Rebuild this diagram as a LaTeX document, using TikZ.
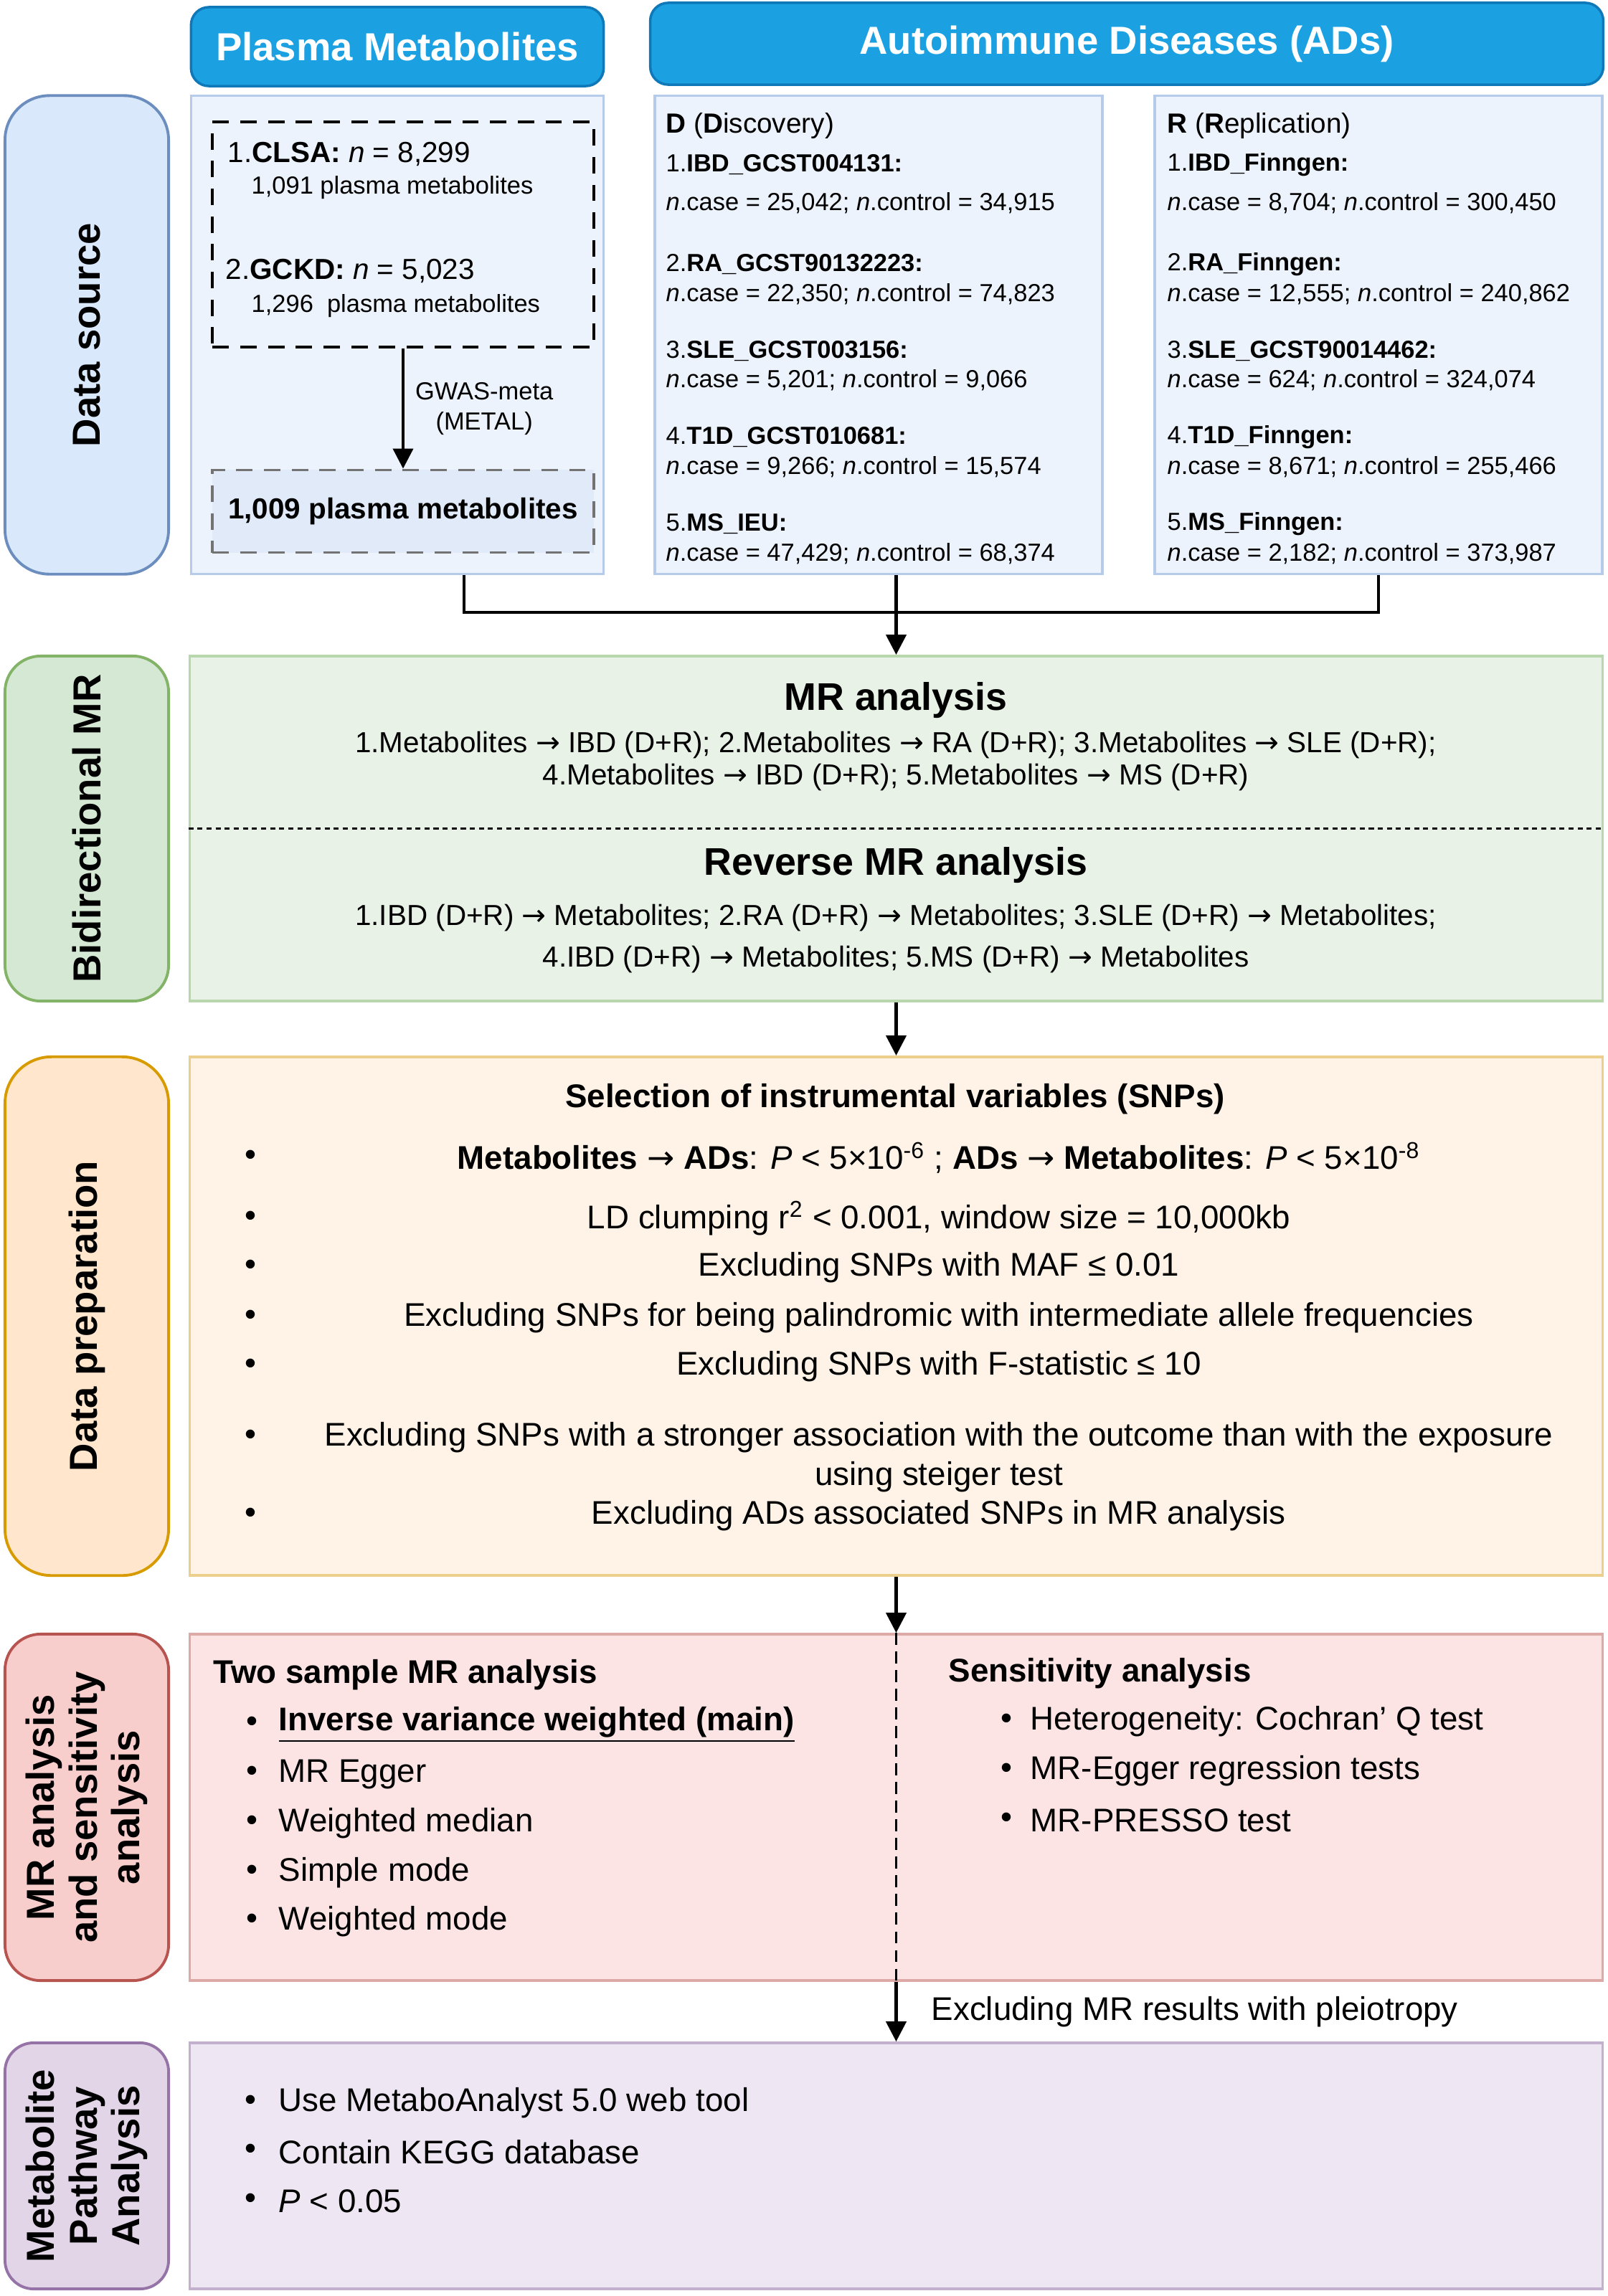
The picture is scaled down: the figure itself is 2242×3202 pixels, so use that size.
\documentclass[tikz,border=0pt]{standalone}
\usepackage{fontspec}
\setmainfont{Liberation Sans}
\newfontfamily\symfont{DejaVu Sans}
\usepackage{tikz}
\usetikzlibrary{arrows.meta}
\definecolor{hdblue}{HTML}{1BA1E2}
\definecolor{hdline}{HTML}{0F78B8}
\definecolor{srcfill}{HTML}{DAE8FC}
\definecolor{srcline}{HTML}{6C8EBF}
\definecolor{srcpale}{HTML}{EDF3FD}
\definecolor{srcbox}{HTML}{B5CBE9}
\definecolor{srcmid}{HTML}{E0EAF9}
\definecolor{grnfill}{HTML}{D5E8D4}
\definecolor{grnline}{HTML}{82B366}
\definecolor{grnpale}{HTML}{E8F2E7}
\definecolor{grnbox}{HTML}{B9D7AD}
\definecolor{orgfill}{HTML}{FFE6CC}
\definecolor{orgline}{HTML}{D79B00}
\definecolor{orgpale}{HTML}{FFF2E6}
\definecolor{orgbox}{HTML}{EDCF8C}
\definecolor{redfill}{HTML}{F8CECC}
\definecolor{redline}{HTML}{B85450}
\definecolor{redpale}{HTML}{FBE4E3}
\definecolor{redbox}{HTML}{DCA9A7}
\definecolor{purfill}{HTML}{E1D5E7}
\definecolor{purline}{HTML}{9673A6}
\definecolor{purpale}{HTML}{EEE6F2}
\definecolor{purbox}{HTML}{C3B0CF}
\newcommand{\caseline}[2]{\textit{n}.case = #1; \textit{n}.control = #2}
\newcommand{\toarr}{{\symfont\mdseries →}}

\begin{document}
\begin{tikzpicture}[x=0.01cm,y=-0.01cm,
    hdr/.style={draw=hdline, fill=hdblue, line width=1pt, rounded corners=0.25cm, text=white, inner sep=0pt, font=\fontsize{15.5}{18}\selectfont\bfseries},
    stage/.style={line width=1.1pt, rounded corners=0.5cm, rotate=90, inner sep=0pt, align=center, minimum height=2.28cm, font=\fontsize{15.5}{17}\selectfont\bfseries},
    panel/.style={line width=1pt, inner sep=0pt, minimum width=19.69cm},
    txt/.style={inner sep=0pt, font=\fontsize{13}{15.6}\selectfont},
    small/.style={inner sep=0pt, font=\fontsize{9.8}{12}\selectfont},
    dot/.style={inner sep=0pt, font=\fontsize{13}{14}\selectfont},
    arrow/.style={line width=1.2pt, -{Triangle[length=0.28cm,width=0.28cm]}},
    link/.style={line width=1.2pt}]
  \useasboundingbox (0,0) rectangle (2242,3202);

  % headers
  \node[hdr, minimum width=5.75cm, minimum height=1.1cm] (hPlasma) at (554,65) {Plasma Metabolites};
  \node[hdr, minimum width=13.28cm, minimum height=1.14cm] (hAD) at (1571,61) {Autoimmune Diseases (ADs)};

  % data source
  \node[stage, draw=srcline, fill=srcfill, rounded corners=0.62cm, minimum width=6.67cm] (lSource) at (121,467) {Data source};
  \node[draw=srcbox, fill=srcpale, line width=1pt, minimum width=5.75cm, minimum height=6.67cm] (bPlasma) at (554,467) {};
  \node[draw=srcbox, fill=srcpale, line width=1pt, minimum width=6.24cm, minimum height=6.67cm] (bDisc) at (1225,467) {};
  \node[draw=srcbox, fill=srcpale, line width=1pt, minimum width=6.24cm, minimum height=6.67cm] (bRepl) at (1922,467) {};

  \node[draw, line width=1.1pt, dash pattern=on 6.5pt off 4.5pt, minimum width=5.31cm, minimum height=3.14cm] (cohorts) at (562,327) {};
  \node[inner sep=0pt, anchor=west, font=\fontsize{11.5}{14}\selectfont] (clsa) at (317,215) {1.\textbf{CLSA:} \textit{n} = 8,299};
  \node[small, anchor=west] (clsaN) at (350,262) {1,091 plasma metabolites};
  \node[inner sep=0pt, anchor=west, font=\fontsize{11.5}{14}\selectfont] (gckd) at (314,378) {2.\textbf{GCKD:} \textit{n} = 5,023};
  \node[small, anchor=west] (gckdN) at (350,427) {1,296\ \ plasma metabolites};
  \node[draw=black!55, fill=srcmid, line width=1.1pt, dash pattern=on 6.5pt off 4.5pt, minimum width=5.31cm, minimum height=1.15cm, font=\fontsize{11.5}{14}\selectfont\bfseries] (merged) at (562,713) {1,009 plasma metabolites};
  \draw[arrow] (cohorts.south) -- (merged.north)
    node[midway, right=0.15cm, align=center, inner sep=0pt, font=\fontsize{9.8}{12}\selectfont] {GWAS-meta\\(METAL)};

  \node[inner sep=0pt, anchor=west, font=\fontsize{11}{13}\selectfont] (dHead) at (928,175) {\textbf{D} (\textbf{D}iscovery)};
  \node[inner sep=0pt, anchor=west, font=\fontsize{11}{13}\selectfont] (rHead) at (1627,175) {\textbf{R} (\textbf{R}eplication)};
  \foreach \k/\ya/\yb/\dn/\dc/\dk/\rn/\rc/\rk in {
      1/230/283/IBD\_GCST004131/{25,042}/{34,915}/IBD\_Finngen/{8,704}/{300,450},
      2/369/410/RA\_GCST90132223/{22,350}/{74,823}/RA\_Finngen/{12,555}/{240,862},
      3/490/530/SLE\_GCST003156/{5,201}/{9,066}/SLE\_GCST90014462/{624}/{324,074},
      4/610/651/T1D\_GCST010681/{9,266}/{15,574}/T1D\_Finngen/{8,671}/{255,466},
      5/731/772/MS\_IEU/{47,429}/{68,374}/MS\_Finngen/{2,182}/{373,987}}{
    \node[small, anchor=west] (d\k) at (928,\ya) {\k.\textbf{\dn:}};
    \node[small, anchor=west] (dc\k) at (928,\yb) {\caseline{\dc}{\dk}};
    \node[small, anchor=west] (r\k) at (1627,\ya) {\k.\textbf{\rn:}};
    \node[small, anchor=west] (rc\k) at (1627,\yb) {\caseline{\rc}{\rk}};
  }

  \coordinate (join) at (1249.5,854);
  \draw[link] ([xshift=0.93cm]bPlasma.south) |- (join);
  \draw[link] (bRepl.south) |- (join);
  \draw[link] (join |- bDisc.south) -- (join);

  % bidirectional MR
  \node[stage, draw=grnline, fill=grnfill, minimum width=4.81cm] (lBidir) at (121,1155.5) {Bidirectional MR};
  \node[panel, draw=grnbox, fill=grnpale, minimum height=4.81cm] (bMR) at (1249.5,1155.5) {};
  \draw[arrow] (join) -- (bMR.north);
  \draw[line width=1pt, dash pattern=on 2pt off 1.6pt] (bMR.west) -- (bMR.east);
  \node[inner sep=0pt, font=\fontsize{15.3}{18}\selectfont\bfseries] (mrTitle) at (1249,977) {MR analysis};
  \node[inner sep=0pt, align=center, font=\fontsize{11.5}{12.8}\selectfont] (mrList) at (1249,1062)
    {1.Metabolites \toarr{} IBD (D+R); 2.Metabolites \toarr{} RA (D+R); 3.Metabolites \toarr{} SLE (D+R);\\
     4.Metabolites \toarr{} IBD (D+R); 5.Metabolites \toarr{} MS (D+R)};
  \node[inner sep=0pt, font=\fontsize{15.3}{18}\selectfont\bfseries] (revTitle) at (1249,1207) {Reverse MR analysis};
  \node[inner sep=0pt, align=center, font=\fontsize{11.5}{16.4}\selectfont] (revList) at (1249,1309)
    {1.IBD (D+R) \toarr{} Metabolites; 2.RA (D+R) \toarr{} Metabolites; 3.SLE (D+R) \toarr{} Metabolites;\\
     4.IBD (D+R) \toarr{} Metabolites; 5.MS (D+R) \toarr{} Metabolites};

  % data preparation
  \node[stage, draw=orgline, fill=orgfill, rounded corners=0.65cm, minimum width=7.23cm] (lPrep) at (121,1835.5) {Data preparation};
  \node[panel, draw=orgbox, fill=orgpale, minimum height=7.23cm] (bPrep) at (1249.5,1835.5) {};
  \draw[arrow] (bMR.south) -- (bPrep.north);
  \node[inner sep=0pt, font=\fontsize{13}{15.6}\selectfont\bfseries] (ivTitle) at (1248,1533) {Selection of instrumental variables (SNPs)};
  \foreach \y in {1615,1700,1768,1838,1906,2005,2114}
    \node[dot] at (349,\y) {•};
  \foreach \k/\y/\t in {
      1/1615/{\textbf{Metabolites} \toarr{} \textbf{ADs}: \textit{P} < 5×10\textsuperscript{-6} ; \textbf{ADs} \toarr{} \textbf{Metabolites}: \textit{P} < 5×10\textsuperscript{-8}},
      2/1699/{LD clumping r\textsuperscript{2} < 0.001, window size = 10,000kb},
      3/1768/{Excluding SNPs with MAF ≤ 0.01},
      4/1838/{Excluding SNPs for being palindromic with intermediate allele frequencies},
      5/1906/{Excluding SNPs with F-statistic ≤ 10},
      6/2032/{Excluding SNPs with a stronger association with the outcome than with the exposure\\using steiger test},
      7/2114/{Excluding ADs associated SNPs in MR analysis}}
    \node[txt, align=center] (iv\k) at (1309,\y) {\t};

  % MR analysis and sensitivity analysis
  \node[stage, draw=redline, fill=redfill, minimum width=4.83cm] (lSens) at (121,2520.5) {MR analysis\\and sensitivity\\analysis};
  \node[panel, draw=redbox, fill=redpale, minimum height=4.83cm] (bSens) at (1249.5,2520.5) {};
  \draw[arrow] (bPrep.south) -- (bSens.north);
  \draw[line width=0.7pt, dash pattern=on 4.8pt off 2.6pt] (bSens.north) -- (bSens.south);
  \node[txt, anchor=west, font=\fontsize{13}{15.6}\selectfont\bfseries] (twoTitle) at (297,2336) {Two sample MR analysis};
  \foreach \k/\y/\t in {1/2405/{\underline{\textbf{Inverse variance weighted (main)}}}, 2/2474/MR Egger,
      3/2543/Weighted median, 4/2612/Simple mode, 5/2680/Weighted mode}{
    \node[dot] at (351,\y) {•};
    \node[txt, anchor=west] (mth\k) at (388,\y) {\t};
  }
  \node[txt, anchor=west, font=\fontsize{13}{15.6}\selectfont\bfseries] (senTitle) at (1322,2334) {Sensitivity analysis};
  \foreach \k/\y/\t in {1/2401/Heterogeneity: Cochran’ Q test, 2/2470/MR-Egger regression tests, 3/2539/MR-PRESSO test}{
    \node[dot] at (1403,\y) {•};
    \node[txt, anchor=west] (sen\k) at (1436,\y) {\t};
  }

  % metabolite pathway analysis
  \node[stage, draw=purline, fill=purfill, rounded corners=0.4cm, minimum width=3.43cm] (lPath) at (121,3020.5) {Metabolite\\Pathway\\Analysis};
  \node[panel, draw=purbox, fill=purpale, minimum height=3.43cm] (bPath) at (1249.5,3020.5) {};
  \draw[arrow] (bSens.south) -- (bPath.north)
    node[midway, right=0.47cm, txt] {Excluding MR results with pleiotropy};
  \foreach \k/\y/\t in {1/2933/Use MetaboAnalyst 5.0 web tool, 2/3001/Contain KEGG database, 3/3070/\textit{P} < 0.05}{
    \node[dot] at (349,\y) {•};
    \node[txt, anchor=west] (pw\k) at (388,\y) {\t};
  }
\end{tikzpicture}
\end{document}
